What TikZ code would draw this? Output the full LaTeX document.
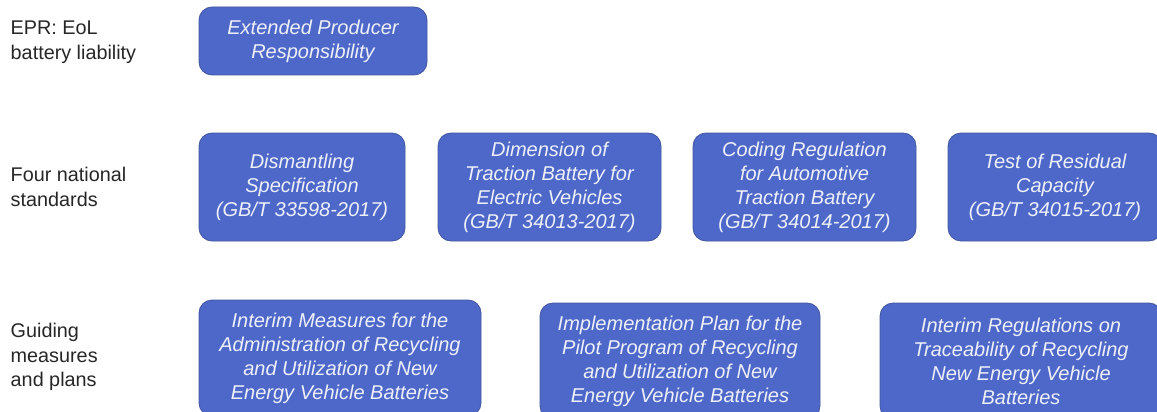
\documentclass[tikz,border=0pt]{standalone}
\usepackage{fontspec}
\setmainfont{Liberation Sans}
\usetikzlibrary{positioning}
\definecolor{cblue}{HTML}{4E68C9}
\definecolor{cedge}{HTML}{41569F}
\definecolor{ctext}{HTML}{EEF0F8}
\definecolor{clabel}{HTML}{262626}
\tikzset{
  every picture/.style={line width=0.8pt},
  box/.style={draw=cedge, fill=cblue, rounded corners=13pt, align=center, text=ctext,
    font=\fontsize{20}{24}\selectfont\itshape, inner sep=2pt},
  rowlabel/.style={anchor=west, align=left, text=clabel, font=\fontsize{19.8}{24.5}\selectfont},
}
\begin{document}
\begin{tikzpicture}[x=1pt, y=-1pt]
  \useasboundingbox (0,0) rectangle (1157,412);
  % row labels
  \node[rowlabel] (lepr) at (7,42) {EPR: EoL\\battery liability};
  \node[rowlabel] (lstd) at (7,187) {Four national\\standards};
  \node[rowlabel] (lplan) at (7,357) {Guiding\\measures\\and plans};
  % EPR
  \node[box, minimum width=228pt, minimum height=68pt] (epr) at (313,41) {Extended Producer\\Responsibility};
  % standards
  \node[box, minimum width=206pt, minimum height=108pt] (s1) at (302,187) {Dismantling\\Specification\\(GB/T 33598-2017)};
  \node[box, minimum width=223pt, minimum height=108pt] (s2) at (549.5,187) {Dimension of\\Traction Battery for\\Electric Vehicles\\(GB/T 34013-2017)};
  \node[box, minimum width=223pt, minimum height=108pt] (s3) at (804.5,187) {Coding Regulation\\for Automotive\\Traction Battery\\(GB/T 34014-2017)};
  \node[box, minimum width=214pt, minimum height=108pt] (s4) at (1055,187) {Test of Residual\\Capacity\\(GB/T 34015-2017)};
  % measures and plans
  \node[box, minimum width=282pt, minimum height=116pt] (p1) at (340,358) {Interim Measures for the\\Administration of Recycling\\and Utilization of New\\Energy Vehicle Batteries};
  \node[box, minimum width=280pt, minimum height=116pt] (p2) at (680,361) {Implementation Plan for the\\Pilot Program of Recycling\\and Utilization of New\\Energy Vehicle Batteries};
  \node[box, minimum width=282pt, minimum height=116pt] (p3) at (1021,361) {Interim Regulations on\\Traceability of Recycling\\New Energy Vehicle\\Batteries};
\end{tikzpicture}
\end{document}
